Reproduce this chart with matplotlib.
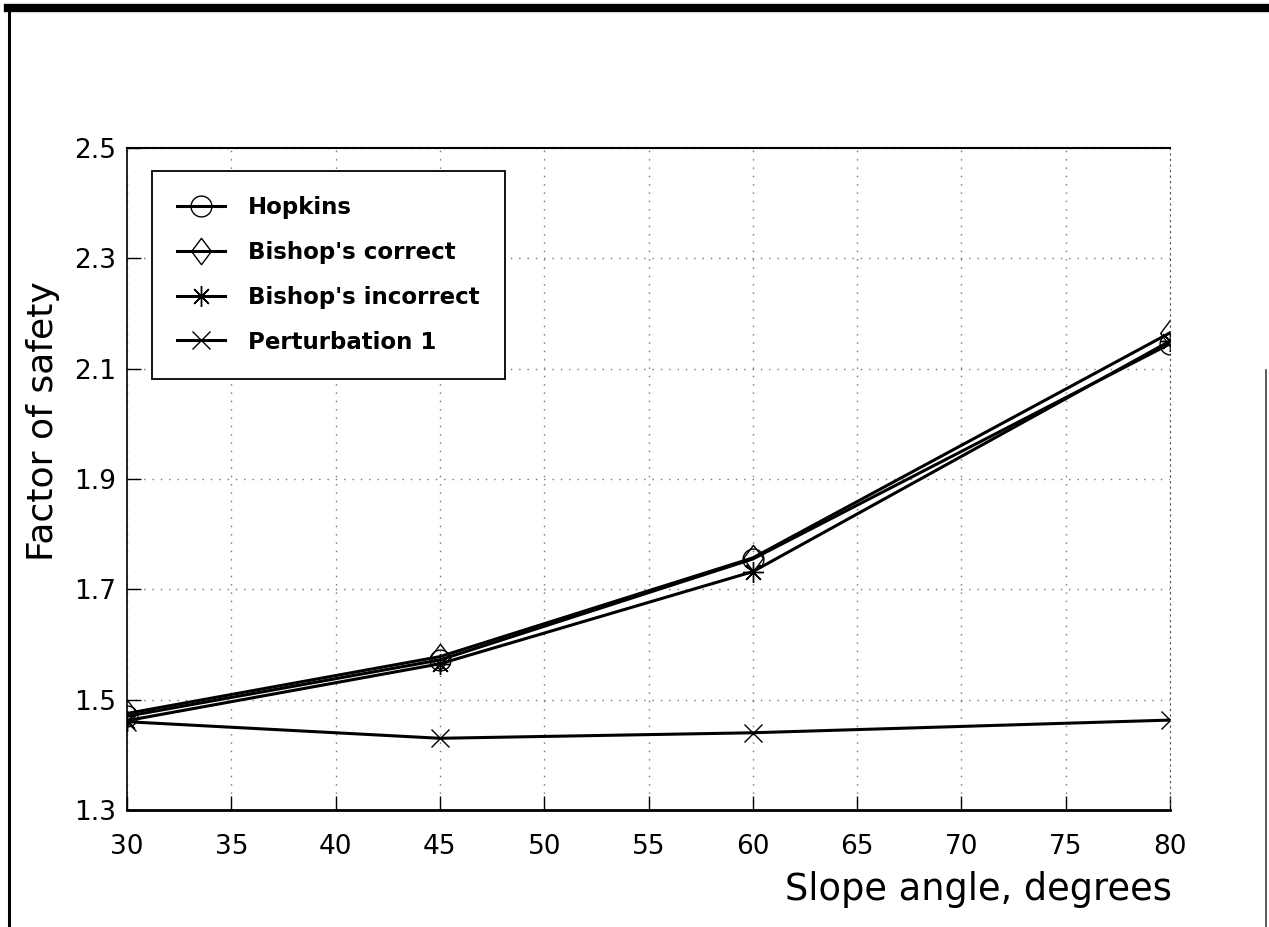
import matplotlib.pyplot as plt
from matplotlib.lines import Line2D

# Factor of safety vs slope angle for four methods
slope_deg = [30, 45, 60, 80]
fs_hopkins = [1.470, 1.572, 1.755, 2.145]
fs_bishop_ok = [1.475, 1.578, 1.757, 2.165]
fs_bishop_bad = [1.462, 1.565, 1.732, 2.150]
fs_perturb = [1.460, 1.430, 1.440, 1.463]

x_ticks = [30, 35, 40, 45, 50, 55, 60, 65, 70, 75, 80]
y_ticks = [1.3, 1.5, 1.7, 1.9, 2.1, 2.3, 2.5]

W, H = 1269, 927
fig = plt.figure(figsize=(W / 100, H / 100), dpi=100)
fig.patch.set_facecolor('white')

# page frame (thick top rule, left and right edges)
fig.add_artist(Line2D([8 / W, 1.0], [1 - 8 / H, 1 - 8 / H], color='black', linewidth=6))
fig.add_artist(Line2D([9 / W, 9 / W], [0, 1 - 8 / H], color='black', linewidth=2.2))
fig.add_artist(Line2D([1266 / W, 1266 / W], [0, 1 - 370 / H], color='0.25', linewidth=1.2))

ax = fig.add_axes([127 / W, 1 - 810 / H, 1043 / W, 662 / H])

diamond = [(-0.75, 0), (0, 1), (0.75, 0), (0, -1), (-0.75, 0)]
ax.plot(slope_deg, fs_hopkins, color='black', linewidth=2.2, marker='o', markersize=15,
        markerfacecolor='none', markeredgecolor='black', markeredgewidth=1, label='Hopkins')
ax.plot(slope_deg, fs_bishop_ok, color='black', linewidth=2.2, marker=diamond, markersize=19,
        markerfacecolor='none', markeredgecolor='black', markeredgewidth=1, label="Bishop's correct")
ax.plot(slope_deg, fs_bishop_bad, color='black', linewidth=2.2, marker=(8, 2, 0), markersize=15,
        markeredgecolor='black', markeredgewidth=1, label="Bishop's incorrect")
ax.plot(slope_deg, fs_perturb, color='black', linewidth=2.2, marker='x', markersize=13,
        markeredgecolor='black', markeredgewidth=1, label='Perturbation 1')

ax.set_xlim(30, 80)
ax.set_ylim(1.3, 2.5)
ax.set_xticks(x_ticks)
ax.set_yticks(y_ticks)
ax.set_yticklabels([f'{v:.1f}' for v in y_ticks])

ax.grid(True, color='0.45', linestyle=(0, (1, 5)), linewidth=1)
ax.tick_params(direction='in', length=10, width=1, colors='black', labelsize=19)
ax.tick_params(axis='x', pad=17)
ax.tick_params(axis='y', pad=8)

for side in ['top', 'bottom', 'left']:
    ax.spines[side].set_color('black')
ax.spines['bottom'].set_linewidth(2)
ax.spines['top'].set_linewidth(1.5)
ax.spines['left'].set_linewidth(1.2)
ax.spines['right'].set_linestyle((0, (1, 4)))
ax.spines['right'].set_color('0.3')

leg = ax.legend(loc='upper left', bbox_to_anchor=(152 / W, 1 - 171 / H),
                bbox_transform=fig.transFigure, borderaxespad=0, numpoints=1,
                fancybox=False, framealpha=1, edgecolor='black',
                handlelength=2.1, handletextpad=1.0, borderpad=1.1, labelspacing=0.95,
                prop={'size': 16.5, 'weight': 'bold'})
leg.get_frame().set_linewidth(1.3)

fig.text(43 / W, 1 - 421 / H, 'Factor of safety', rotation=90, fontsize=26,
         ha='center', va='center')
fig.text(1172 / W, 1 - 900 / H, 'Slope angle, degrees', fontsize=26.5,
         ha='right', va='baseline')

plt.savefig('out.png', dpi=100)
